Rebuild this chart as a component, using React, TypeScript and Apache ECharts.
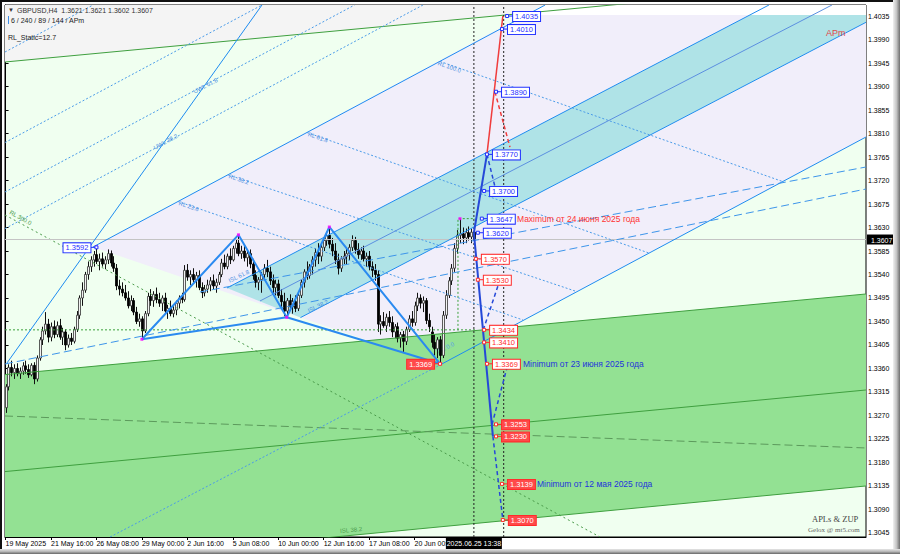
import React, { useEffect, useRef } from "react";
import * as echarts from "echarts";

// ---------- axis data ----------
const priceTicks = [
  1.3045, 1.309, 1.3135, 1.318, 1.3225, 1.327, 1.3315, 1.336, 1.3405, 1.345, 1.3495, 1.354,
  1.3585, 1.363, 1.3675, 1.372, 1.3765, 1.381, 1.3855, 1.39, 1.3945, 1.399, 1.4035,
];
const timeTickBars = [0, 16, 32, 48, 64, 80, 96, 112, 128, 144];
const timeTickLabels = [
  "19 May 2025", "21 May 16:00", "26 May 08:00", "29 May 00:00", "2 Jun 16:00",
  "5 Jun 08:00", "10 Jun 00:00", "12 Jun 16:00", "17 Jun 08:00", "20 Jun 00:00",
];
const lastPrice = 1.3607;
const crossTime = "2025.06.25 13:38";
const crossBar = 164.9;

// ---------- candles [open, high, low, close], H4 ----------
const week19May = [
  [1.3285, 1.333, 1.3275, 1.3325], [1.3325, 1.3368, 1.3318, 1.3362], [1.3362, 1.3375, 1.3345, 1.3352],
  [1.3352, 1.3368, 1.334, 1.336], [1.336, 1.337, 1.3345, 1.335], [1.335, 1.3362, 1.334, 1.3355],
  [1.3355, 1.3372, 1.3348, 1.3365], [1.3365, 1.3375, 1.335, 1.3358], [1.3358, 1.3368, 1.3342, 1.3348],
  [1.3348, 1.337, 1.3345, 1.3366], [1.3366, 1.3372, 1.333, 1.334], [1.334, 1.3385, 1.3335, 1.338],
  [1.338, 1.342, 1.3375, 1.3415], [1.3415, 1.344, 1.3405, 1.3432], [1.3432, 1.3468, 1.3425, 1.3445],
  [1.3445, 1.3455, 1.341, 1.342], [1.342, 1.3448, 1.3412, 1.344], [1.344, 1.3452, 1.3418, 1.3425],
  [1.3425, 1.345, 1.342, 1.3442], [1.3442, 1.3455, 1.3415, 1.342], [1.342, 1.3438, 1.3405, 1.343],
  [1.343, 1.3435, 1.3395, 1.3405], [1.3405, 1.3425, 1.34, 1.3418], [1.3418, 1.3428, 1.3405, 1.3412],
  [1.3412, 1.344, 1.3408, 1.3435], [1.3435, 1.347, 1.343, 1.3462], [1.3462, 1.35, 1.3455, 1.3495],
  [1.3495, 1.3525, 1.348, 1.351], [1.351, 1.3545, 1.3505, 1.354], [1.354, 1.3565, 1.353, 1.3555],
];
const week26May = [
  [1.3555, 1.3575, 1.3545, 1.3568], [1.3568, 1.3585, 1.3555, 1.3578], [1.3578, 1.3593, 1.356, 1.3565],
  [1.3565, 1.358, 1.3548, 1.357], [1.357, 1.3582, 1.3555, 1.356], [1.356, 1.3575, 1.355, 1.3568],
  [1.3568, 1.3588, 1.356, 1.358], [1.358, 1.3586, 1.3555, 1.3562], [1.3562, 1.3575, 1.3545, 1.3552],
  [1.3552, 1.356, 1.351, 1.3518], [1.3518, 1.353, 1.35, 1.3512], [1.3512, 1.3525, 1.3498, 1.3505],
  [1.3505, 1.352, 1.349, 1.3495], [1.3495, 1.3508, 1.3475, 1.348], [1.348, 1.35, 1.347, 1.349],
  [1.349, 1.3495, 1.3462, 1.3468], [1.3468, 1.3478, 1.3445, 1.345], [1.345, 1.3465, 1.344, 1.3455],
  [1.3455, 1.346, 1.3416, 1.3432], [1.3432, 1.347, 1.3428, 1.3465], [1.3465, 1.3505, 1.346, 1.3498],
  [1.3498, 1.3512, 1.348, 1.349], [1.349, 1.3508, 1.3478, 1.3502], [1.3502, 1.3515, 1.3485, 1.3492],
  [1.3492, 1.3505, 1.3478, 1.3485], [1.3485, 1.35, 1.347, 1.3495], [1.3495, 1.3505, 1.3465, 1.347],
  [1.347, 1.3482, 1.3455, 1.3475], [1.3475, 1.349, 1.346, 1.3465], [1.3465, 1.348, 1.3458, 1.3472],
];
const week2Jun = [
  [1.3472, 1.349, 1.3462, 1.3485], [1.3485, 1.35, 1.3475, 1.3495], [1.3495, 1.3505, 1.3485, 1.3492],
  [1.3492, 1.3558, 1.3488, 1.3548], [1.3548, 1.356, 1.3528, 1.3535], [1.3535, 1.3548, 1.352, 1.354],
  [1.354, 1.3552, 1.3525, 1.353], [1.353, 1.3545, 1.3515, 1.3538], [1.3538, 1.3548, 1.351, 1.3515],
  [1.3515, 1.3525, 1.3495, 1.3505], [1.3505, 1.352, 1.3498, 1.3512], [1.3512, 1.353, 1.3505, 1.352],
  [1.352, 1.3535, 1.3508, 1.3528], [1.3528, 1.354, 1.3512, 1.3518], [1.3518, 1.3532, 1.3505, 1.3525],
  [1.3525, 1.3545, 1.352, 1.354], [1.354, 1.357, 1.3535, 1.3562], [1.3562, 1.3578, 1.355, 1.3555],
  [1.3555, 1.358, 1.355, 1.3575], [1.3575, 1.359, 1.356, 1.3568], [1.3568, 1.3595, 1.3565, 1.359],
  [1.359, 1.3608, 1.358, 1.36], [1.36, 1.3616, 1.3575, 1.358], [1.358, 1.3595, 1.357, 1.3585],
  [1.3585, 1.3598, 1.3565, 1.3572], [1.3572, 1.3585, 1.3555, 1.358], [1.358, 1.3588, 1.3552, 1.356],
  [1.356, 1.357, 1.353, 1.3538], [1.3538, 1.3548, 1.3515, 1.3525], [1.3525, 1.3535, 1.351, 1.353],
];
const week9Jun = [
  [1.353, 1.3545, 1.3505, 1.354], [1.354, 1.356, 1.353, 1.3552], [1.3552, 1.3568, 1.3535, 1.3545],
  [1.3545, 1.3555, 1.352, 1.3528], [1.3528, 1.354, 1.3505, 1.3515], [1.3515, 1.353, 1.35, 1.3522],
  [1.3522, 1.353, 1.3495, 1.35], [1.35, 1.3512, 1.3478, 1.3488], [1.3488, 1.3505, 1.346, 1.347],
  [1.347, 1.3495, 1.3458, 1.349], [1.349, 1.3502, 1.347, 1.3478], [1.3478, 1.3495, 1.3465, 1.3488],
  [1.3488, 1.35, 1.3468, 1.3475], [1.3475, 1.3505, 1.347, 1.35], [1.35, 1.353, 1.3495, 1.3525],
  [1.3525, 1.355, 1.3515, 1.3545], [1.3545, 1.3565, 1.353, 1.3538], [1.3538, 1.356, 1.3532, 1.3555],
  [1.3555, 1.3575, 1.354, 1.3568], [1.3568, 1.359, 1.3555, 1.3582], [1.3582, 1.36, 1.356, 1.3575],
  [1.3575, 1.3598, 1.3565, 1.3592], [1.3592, 1.3612, 1.3585, 1.3605], [1.3605, 1.3622, 1.3595, 1.3615],
  [1.3615, 1.3631, 1.359, 1.3598], [1.3598, 1.361, 1.3575, 1.3585], [1.3585, 1.36, 1.356, 1.3568],
  [1.3568, 1.358, 1.354, 1.3552], [1.3552, 1.3575, 1.3545, 1.357], [1.357, 1.3585, 1.356, 1.3575],
];
const week16Jun = [
  [1.3575, 1.359, 1.356, 1.358], [1.358, 1.3598, 1.3568, 1.3592], [1.3592, 1.3615, 1.3585, 1.3605],
  [1.3605, 1.3612, 1.358, 1.3588], [1.3588, 1.36, 1.357, 1.3578], [1.3578, 1.3592, 1.3568, 1.3585],
  [1.3585, 1.3595, 1.3565, 1.357], [1.357, 1.3582, 1.3555, 1.3575], [1.3575, 1.3585, 1.3548, 1.3555],
  [1.3555, 1.3565, 1.3535, 1.3548], [1.3548, 1.356, 1.3528, 1.354], [1.354, 1.3548, 1.343, 1.3445],
  [1.3445, 1.3462, 1.3425, 1.345], [1.345, 1.3468, 1.3438, 1.3442], [1.3442, 1.3465, 1.343, 1.3458],
  [1.3458, 1.347, 1.344, 1.3448], [1.3448, 1.346, 1.342, 1.343], [1.343, 1.3445, 1.3418, 1.344],
  [1.344, 1.3448, 1.341, 1.3418], [1.3418, 1.343, 1.34, 1.3425], [1.3425, 1.3432, 1.339, 1.3412],
  [1.3412, 1.344, 1.3405, 1.3435], [1.3435, 1.3462, 1.343, 1.3455], [1.3455, 1.347, 1.344, 1.3448],
  [1.3448, 1.3488, 1.3442, 1.348], [1.348, 1.3505, 1.347, 1.3495], [1.3495, 1.3502, 1.3475, 1.3485],
  [1.3485, 1.3498, 1.3468, 1.349], [1.349, 1.3495, 1.3445, 1.3452], [1.3452, 1.3465, 1.343, 1.344],
];
const week23Jun = [
  [1.343, 1.344, 1.34, 1.341], [1.341, 1.3425, 1.3385, 1.3398], [1.3398, 1.342, 1.338, 1.3415],
  [1.3415, 1.3422, 1.3369, 1.3385], [1.3385, 1.347, 1.338, 1.3462], [1.3462, 1.351, 1.3455, 1.35],
  [1.35, 1.3535, 1.3495, 1.3528], [1.3528, 1.356, 1.352, 1.3552], [1.3552, 1.36, 1.3545, 1.359],
  [1.359, 1.3625, 1.358, 1.3615], [1.3615, 1.3647, 1.36, 1.3618], [1.3618, 1.363, 1.3598, 1.361],
  [1.361, 1.3628, 1.36, 1.362], [1.362, 1.3632, 1.3605, 1.3612], [1.3612, 1.3628, 1.36, 1.3621],
  [1.3621, 1.3621, 1.3602, 1.3607],
];
const candles = [...week19May, ...week26May, ...week2Jun, ...week9Jun, ...week16Jun, ...week23Jun];

// ---------- drawn objects, anchored at [bar index, price] ----------
const greenTop = [[-0.2, 1.394692], [302.96, 1.410183]];
const greenUpper = [[-0.2, 1.334832], [302.96, 1.350266]];
const greenMid = [[-0.2, 1.316257], [302.96, 1.331883]];
const greenLower = [[-0.2, 1.297683], [302.96, 1.3135]];
const greenDashed = [[-0.2, 1.326906], [302.96, 1.320778]];
const rl300 = [[-0.2, 1.365394], [209.3, 1.303734]];
const level1434 = [[-0.2, 1.3434], [165.3, 1.3434]];
const maxCorner = [[159.3, 1.3434], [159.3, 1.3647], [165.3, 1.3647]];
const steepLine = [[0.49, 1.337053], [90.28, 1.40561]];
const rlLine = [[30.77, 1.359266], [190.0, 1.40561]];
const rl236 = [[60.7, 1.367979], [182.2, 1.345287]];
const rl382 = [[78.31, 1.373088], [200.5, 1.350842]];
const rl618 = [[106.13, 1.381192], [226.5, 1.358117]];
const rl1000 = [[152.96, 1.394807], [273.7, 1.371789]];
const uwl382 = [[-0.2, 1.36279], [146.97, 1.40561]];
const uwl618 = [[-0.2, 1.369798], [122.9, 1.40561]];
const uwl1000 = [[-0.2, 1.379277], [90.28, 1.40561]];
const uwl1618 = [[-0.2, 1.396607], [30.8, 1.40561]];
const cyanUpper = [[77.96, 1.351415], [268.8, 1.40561]];
const cyanMedian = [[89.58, 1.348925], [290.98, 1.40561]];
const cyanLower = [[103.84, 1.345747], [302.96, 1.402294]];
const isl0Dotted = [[36.8, 1.303734], [152.96, 1.33667]];
const isl0 = [[152.96, 1.33667], [302.96, 1.38033]];
const longDash1 = [[68.45, 1.350649], [302.96, 1.374585]];
const longDash2 = [[-0.2, 1.336862], [302.96, 1.370372]];
const patternPath = [[48, 1.3416], [82, 1.3616], [99, 1.3458], [114, 1.3631], [153, 1.3369]];
const patternXB = [[48, 1.3416], [99, 1.3458]];
const patternBD = [[99, 1.3458], [153, 1.3369]];
const pivots = [[32, 1.3593], [48, 1.3416], [82, 1.3616], [99, 1.3458], [114, 1.3631], [153, 1.3369], [160, 1.3647]];
const fcBlueUp = [[164.9, 1.362], [169.5, 1.377]];
const fcBlueDown = [[164.9, 1.362], [171.6, 1.323]];
const fcRed = [[169.5, 1.377], [175.1, 1.4035]];
const fcRedDash = [[172.3, 1.389], [177.6, 1.3784]];
const fcBlueDash1 = [[169.5, 1.377], [172.7, 1.37]];
const fcBlueDash2 = [[171.3, 1.3253], [176.9, 1.3369]];
const fcBlueDash3 = [[168.2, 1.3434], [174.1, 1.353]];
const fcBlueDash4 = [[171.6, 1.323], [175.1, 1.307]];

const grayTopArea = [[-0.2, 1.40561], [-0.2, 1.394692], [213.2, 1.40561]];
const whiteTopStrip = [[189.9, 1.40561], [302.97, 1.40561], [302.97, 1.403692], [182.5, 1.403692]];
const lavenderArea = [[30.77, 1.359266], [182.5, 1.403692], [302.97, 1.403692], [302.97, 1.38033], [152.96, 1.33667]];
const cyanArea = [[77.96, 1.351415], [262.1, 1.403692], [302.97, 1.403692], [302.97, 1.402294], [103.84, 1.345747]];
const greenBand = [[-0.2, 1.334832], [302.96, 1.350266], [302.96, 1.3135], [-0.2, 1.297683]];

const blueBoxes = [[176.6, 1.4035], [174.8, 1.401], [172.7, 1.389], [169.5, 1.377], [168.5, 1.37], [167.7, 1.3647], [166.3, 1.362]];
const redBoxes = [[165.6, 1.357], [166.3, 1.353], [168.5, 1.3434], [168.5, 1.341], [169.5, 1.3369]];
const redFilledBoxes = [[172.7, 1.3253], [172.7, 1.323], [174.8, 1.3139], [175.1, 1.307]];
const leftBlueBoxes = [[32, 1.3592]];
const leftRedBoxes = [[153, 1.3369]];

const noteMax = { pos: [180.1, 1.3647], text: "Maximum от 24 июня 2025 года" };
const noteMin1 = { pos: [182.2, 1.3369], text: "Minimum от 23 июня 2025 года" };
const noteMin2 = { pos: [187.1, 1.3139], text: "Minimum от 12 мая 2025 года" };
const lineLabels = [
  { pos: [61.05, 1.367692], text: "RL 23.6", rot: -0.33 },
  { pos: [78.66, 1.372862], text: "RL 38.2", rot: -0.33 },
  { pos: [106.5, 1.380905], text: "RL 61.8", rot: -0.33 },
  { pos: [152.25, 1.3945], text: "RL 100.0", rot: -0.33 },
  { pos: [52.25, 1.378224], text: "UWL 38.2", rot: 0.49 },
  { pos: [66.3, 1.388947], text: "UWL 61.8", rot: 0.49 },
  { pos: [78.66, 1.352755], text: "ISL 61.8", rot: 0.45 },
  { pos: [106.5, 1.34701], text: "ISL 38.2", rot: 0.45 },
  { pos: [151.9, 1.33916], text: "ISL 0.0", rot: 0.45 },
];
const greenLabels = [
  { pos: [1.55, 1.365968], text: "RL 300.0", rot: -0.5 },
  { pos: [117.8, 1.304883], text: "ISL 38.2", rot: 0.09 },
];
const apmLabel = { pos: [288.9, 1.400245], text: "APm" };

// ---------- axis extents ----------
const X_MIN = -0.2, X_MAX = 302.97, Y_MIN = 1.30373, Y_MAX = 1.40561;
const FONT = "'Liberation Sans', Arial, sans-serif";
const BLUE = "#1e8cf0";

function lineS(pts: number[][], color: string, width: number, type: any, z = 4) {
  return {
    type: "line", data: pts, symbol: "none", silent: true, clip: true, z,
    lineStyle: { color, width, type }, emphasis: { disabled: true },
  };
}
function polyS(pts: number[][], color: string, z = 1) {
  return {
    type: "custom", coordinateSystem: "cartesian2d", clip: true, silent: true, z,
    data: [[pts[0][0], pts[0][1]]],
    renderItem: (_p: any, api: any) => ({
      type: "polygon", shape: { points: pts.map((p) => api.coord(p)) }, style: { fill: color },
    }),
  };
}
function textS(pos: number[], text: string, color: string, size: number, rot = 0, family = FONT, z = 6) {
  return {
    type: "custom", coordinateSystem: "cartesian2d", clip: false, silent: true, z,
    data: [pos],
    renderItem: (_p: any, api: any) => {
      const c = api.coord([api.value(0), api.value(1)]);
      return {
        type: "text", x: c[0], y: c[1], rotation: rot,
        style: { text, fill: color, fontSize: size, fontFamily: family, align: "left", verticalAlign: "middle" },
      };
    },
  };
}
function boxS(pts: number[][], color: string, side: number, fill: string, textColor: string) {
  return {
    type: "custom", coordinateSystem: "cartesian2d", clip: false, silent: true, z: 8,
    data: pts,
    renderItem: (_p: any, api: any) => {
      const v = api.value(1);
      const c = api.coord([api.value(0), v]);
      const tx = c[0] + side * 6;
      return {
        type: "group",
        children: [
          { type: "line", shape: { x1: c[0], y1: c[1], x2: tx, y2: c[1] }, style: { stroke: color, lineWidth: 1 } },
          { type: "rect", shape: { x: c[0] - 1.5, y: c[1] - 1.5, width: 3, height: 3 }, style: { fill: "#fff", stroke: color, lineWidth: 1 } },
          {
            type: "text", x: tx, y: c[1] + 0.5,
            style: {
              text: v.toFixed(4), fill: textColor, fontSize: 7.5, fontFamily: FONT,
              align: side > 0 ? "left" : "right", verticalAlign: "middle",
              backgroundColor: fill, borderColor: color, borderWidth: 1, padding: [1, 2, 0, 2], lineHeight: 8,
            },
          },
        ],
      };
    },
  };
}

function buildOption() {
  const candleSeries = {
    type: "custom", coordinateSystem: "cartesian2d", clip: true, silent: true, z: 3,
    data: candles.map((c, i) => [i, c[0], c[1], c[2], c[3]]),
    renderItem: (_p: any, api: any) => {
      const i = api.value(0);
      const o = api.value(1), h = api.value(2), l = api.value(3), c = api.value(4);
      const pO = api.coord([i, o]), pC = api.coord([i, c]), pH = api.coord([i, h]), pL = api.coord([i, l]);
      const x = Math.round(pO[0]) + 0.5;
      const top = Math.min(pO[1], pC[1]);
      const bot = Math.max(pO[1], pC[1]);
      const bull = c >= o;
      return {
        type: "group",
        children: [
          { type: "line", shape: { x1: x, y1: pH[1], x2: x, y2: pL[1] }, style: { stroke: "#111", lineWidth: 1 } },
          {
            type: "rect", shape: { x: x - 1, y: top, width: 2, height: Math.max(1, bot - top) },
            style: { fill: bull ? "#f2f2f2" : "#000", stroke: bull ? "#333" : "#000", lineWidth: 0.8 },
          },
        ],
      };
    },
  };

  const series: any[] = [
    polyS(grayTopArea, "#f4f4f4", 1),
    polyS(lavenderArea, "#f1eefa", 1),
    polyS(cyanArea, "#afe3e7", 1),
    polyS(greenBand, "#93e193", 1),
    polyS(whiteTopStrip, "#ffffff", 1),
    textS(lineLabels[8].pos, lineLabels[8].text, "#5a9be6", 6, lineLabels[8].rot, FONT, 2),
    candleSeries,
    lineS(greenTop, "#3f9f3f", 1, "solid"),
    lineS(greenUpper, "#3f9f3f", 1, "solid"),
    lineS(greenMid, "#3f9f3f", 1, "solid"),
    lineS(greenLower, "#3f9f3f", 1, "solid"),
    lineS(greenDashed, "#5c9a5c", 1, [8, 4]),
    lineS(rl300, "#4a9a4a", 1, [2, 3]),
    lineS(level1434, "#3aa03a", 1, [2, 2]),
    lineS(maxCorner, "#3aa03a", 1, [2, 2]),
    lineS([[X_MIN, lastPrice], [X_MAX, lastPrice]], "#c4c4c4", 1, "solid"),
    lineS([[crossBar, Y_MIN], [crossBar, Y_MAX]], "#222", 1, [2, 2]),
    lineS([[175.4, Y_MIN], [175.4, Y_MAX]], "#222", 1, [2, 2]),
    lineS(steepLine, BLUE, 1, "solid"),
    lineS(rlLine, BLUE, 1, "solid"),
    lineS(rl236, "#4a9be8", 1, [2, 2]),
    lineS(rl382, "#4a9be8", 1, [2, 2]),
    lineS(rl618, "#4a9be8", 1, [2, 2]),
    lineS(rl1000, "#4a9be8", 1, [2, 2]),
    lineS(uwl382, "#4a9be8", 1, [2, 2]),
    lineS(uwl618, "#4a9be8", 1, [2, 2]),
    lineS(uwl1000, "#4a9be8", 1, [2, 2]),
    lineS(uwl1618, "#4a9be8", 1, [2, 2]),
    lineS(cyanUpper, BLUE, 1, "solid"),
    lineS(cyanMedian, "#5b8fe0", 1, "solid"),
    lineS(cyanLower, BLUE, 1, "solid"),
    lineS(isl0Dotted, "#4a9be8", 1, [2, 2]),
    lineS(isl0, BLUE, 1, "solid"),
    lineS(longDash1, "#3d95ea", 1, [8, 4]),
    lineS(longDash2, "#3d95ea", 1, [8, 4]),
    lineS(patternPath, "#2a8af0", 2, "solid", 5),
    lineS(patternXB, "#2a8af0", 2, "solid", 5),
    lineS(patternBD, "#2a8af0", 2, "solid", 5),
    lineS(fcBlueUp, "#2548d8", 2, "solid", 5),
    lineS(fcBlueDown, "#2548d8", 2, "solid", 5),
    lineS(fcRed, "#f03c3c", 1.5, "solid", 5),
    lineS(fcRedDash, "#f03c3c", 1.5, [4, 3], 5),
    lineS(fcBlueDash1, "#2548d8", 1.5, [4, 3], 5),
    lineS(fcBlueDash2, "#2548d8", 1.5, [4, 3], 5),
    lineS(fcBlueDash3, "#2548d8", 1.5, [4, 3], 5),
    lineS(fcBlueDash4, "#2548d8", 1.5, [4, 3], 5),
    {
      type: "scatter", data: pivots, symbol: "rect", symbolSize: 3, silent: true, z: 6,
      itemStyle: { color: "#ff00ff" },
    },
    boxS(blueBoxes, "#1f2fff", 1, "#ffffff", "#1f2fff"),
    boxS(redBoxes, "#ff2a2a", 1, "#ffffff", "#ff2a2a"),
    boxS(redFilledBoxes, "#ff2a2a", 1, "#ff4a4a", "#ffffff"),
    boxS(leftBlueBoxes, "#1f2fff", -1, "#ffffff", "#1f2fff"),
    boxS(leftRedBoxes, "#ff2a2a", -1, "#ff4a4a", "#ffffff"),
    textS(noteMax.pos, noteMax.text, "#ff3333", 8.5),
    textS(noteMin1.pos, noteMin1.text, "#2233dd", 8.5),
    textS(noteMin2.pos, noteMin2.text, "#2233dd", 8.5),
    textS(apmLabel.pos, apmLabel.text, "#e04848", 9),
    ...lineLabels.slice(0, 8).map((l) => textS(l.pos, l.text, "#4a8fe2", 6, l.rot)),
    ...greenLabels.map((l) => textS(l.pos, l.text, "#4a9a4a", 6, l.rot)),
    // current price tag on the price scale
    {
      type: "custom", coordinateSystem: "cartesian2d", clip: false, silent: true, z: 9,
      data: [[X_MAX, lastPrice]],
      renderItem: (_p: any, api: any) => {
        const c = api.coord([api.value(0), api.value(1)]);
        return {
          type: "group",
          children: [
            { type: "rect", shape: { x: c[0] + 1, y: c[1] - 5, width: 27, height: 10 }, style: { fill: "#000" } },
            {
              type: "text", x: c[0] + 5, y: c[1] + 0.5,
              style: { text: api.value(1).toFixed(4), fill: "#fff", fontSize: 7, fontFamily: FONT, align: "left", verticalAlign: "middle" },
            },
          ],
        };
      },
    },
    // crosshair time tag
    {
      type: "custom", coordinateSystem: "cartesian2d", clip: false, silent: true, z: 9,
      data: [[crossBar, Y_MIN]],
      renderItem: (_p: any, api: any) => {
        const c = api.coord([api.value(0), api.value(1)]);
        return {
          type: "group",
          children: [
            { type: "rect", shape: { x: c[0] - 28, y: c[1] + 1, width: 56, height: 11 }, style: { fill: "#000" } },
            {
              type: "text", x: c[0], y: c[1] + 6.5,
              style: { text: crossTime, fill: "#fff", fontSize: 7, fontFamily: FONT, align: "center", verticalAlign: "middle" },
            },
          ],
        };
      },
    },
  ];

  const graphic: any[] = [
    { type: "rect", shape: { x: 0, y: 0, width: 900, height: 2 }, style: { fill: "#111" }, z: 50 },
    { type: "rect", shape: { x: 0, y: 0, width: 2, height: 554 }, style: { fill: "#111" }, z: 50 },
    {
      type: "rect", shape: { x: 893, y: 0, width: 7, height: 554 }, z: 50,
      style: { fill: new echarts.graphic.LinearGradient(0, 0, 1, 0, [{ offset: 0, color: "#f0f0f0" }, { offset: 0.5, color: "#c4c4c4" }, { offset: 1, color: "#6e6e6e" }]) },
    },
    {
      type: "rect", shape: { x: 0, y: 549, width: 900, height: 5 }, z: 50,
      style: { fill: new echarts.graphic.LinearGradient(0, 0, 0, 1, [{ offset: 0, color: "#e6e6e6" }, { offset: 0.5, color: "#b8b8b8" }, { offset: 1, color: "#666" }]) },
    },
    { type: "text", x: 8, y: 10, style: { text: "▼", fill: "#333", fontSize: 6, fontFamily: FONT, verticalAlign: "middle" }, z: 20 },
    { type: "text", x: 17, y: 10, style: { text: "GBPUSD,H4  1.3621 1.3621 1.3602 1.3607", fill: "#333", fontSize: 7, fontFamily: FONT, verticalAlign: "middle" }, z: 20 },
    { type: "rect", shape: { x: 8, y: 16, width: 1, height: 8 }, style: { fill: "#3d8ee8" }, z: 20 },
    { type: "text", x: 11, y: 20, style: { text: "6 / 240 / 89 / 144 / APm", fill: "#222", fontSize: 7, fontFamily: FONT, verticalAlign: "middle" }, z: 20 },
    { type: "text", x: 8, y: 37, style: { text: "RL_Static=12.7", fill: "#222", fontSize: 7, fontFamily: FONT, verticalAlign: "middle" }, z: 20 },
    { type: "text", x: 812, y: 519, style: { text: "APLs & ZUP", fill: "#444", fontSize: 8.5, fontFamily: "'Liberation Serif', serif", verticalAlign: "middle" }, z: 20 },
    { type: "text", x: 808, y: 530, style: { text: "Gelox @ mt5.com", fill: "#666", fontSize: 7, fontFamily: "'Liberation Serif', serif", verticalAlign: "middle" }, z: 20 },
  ];

  return {
    animation: false,
    backgroundColor: "#ffffff",
    grid: { left: 5, top: 5, width: 861, height: 532, show: true, backgroundColor: "#f0fff0", borderColor: "#000", borderWidth: 1 },
    xAxis: {
      type: "value", min: X_MIN, max: X_MAX,
      axisLine: { show: true, lineStyle: { color: "#000" } },
      axisTick: { show: true, customValues: timeTickBars, length: 3, lineStyle: { color: "#000" } },
      axisLabel: {
        customValues: timeTickBars, align: "left", margin: 3, fontSize: 7, fontFamily: FONT, color: "#000",
        formatter: (v: number) => timeTickLabels[timeTickBars.indexOf(Math.round(v))] ?? "",
      },
      splitLine: { show: false },
    },
    yAxis: {
      type: "value", position: "right", min: Y_MIN, max: Y_MAX,
      axisLine: { show: true, lineStyle: { color: "#000" } },
      axisTick: { show: true, customValues: priceTicks, length: 3, lineStyle: { color: "#000" } },
      axisLabel: {
        customValues: priceTicks, margin: 2, fontSize: 7, fontFamily: FONT, color: "#000",
        formatter: (v: number) => v.toFixed(4),
      },
      splitLine: { show: false },
    },
    series,
    graphic,
  };
}

export default function App() {
  const ref = useRef<HTMLDivElement>(null);
  useEffect(() => {
    const chart = echarts.init(ref.current!, null, { renderer: "svg" });
    chart.setOption(buildOption() as any);
    return () => chart.dispose();
  }, []);
  return (
    <div
      ref={ref}
      style={{ position: "fixed", left: 0, top: 0, width: 900, height: 554, background: "#fff" }}
    />
  );
}
